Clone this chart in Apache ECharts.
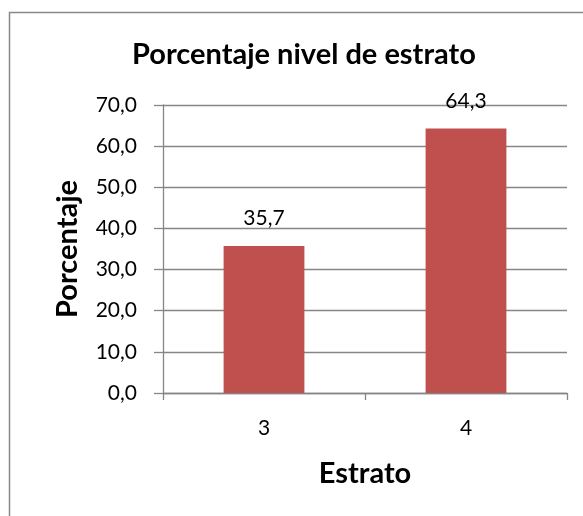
<!DOCTYPE html>
<html>
<head>
<meta charset="utf-8">
<script src="https://cdn.jsdelivr.net/npm/echarts@6/dist/echarts.min.js"></script>
<style>
  html, body { margin: 0; padding: 0; background: #fff; }
  #chart { width: 583px; height: 516px; }
</style>
</head>
<body>
<div id="chart"></div>
<script>
// Estrato categories and their share (%)
const categories = ['3', '4'];
const percentages = [35.7, 64.3];
const yTicks = { min: 0, max: 70, step: 10 };

const FONT = 'Lato, "Open Sans", sans-serif';
const fmt = v => v.toFixed(1).replace('.', ',');

const chart = echarts.init(document.getElementById('chart'), null, { renderer: 'canvas' });
chart.setOption({
  animation: false,
  backgroundColor: '#ffffff',
  graphic: [{
    type: 'rect',
    shape: { x: 9.5, y: 12.5, width: 620, height: 620 },
    style: { fill: 'none', stroke: '#888888', lineWidth: 1.5 },
    silent: true
  }],
  title: {
    text: 'Porcentaje nivel de estrato',
    left: 127,
    top: 35,
    textStyle: { fontFamily: FONT, fontWeight: 'bold', fontSize: 29, color: '#000' }
  },
  grid: { left: 163, right: 16, top: 105, bottom: 123, containLabel: false },
  xAxis: {
    type: 'category',
    data: categories,
    name: 'Estrato',
    nameLocation: 'middle',
    nameGap: 66,
    nameTextStyle: { fontFamily: FONT, fontWeight: 'bold', fontSize: 29, color: '#000' },
    axisLine: { lineStyle: { color: '#868686', width: 1.3 } },
    axisTick: { show: true, length: 7, alignWithLabel: false, lineStyle: { color: '#868686', width: 1.3 } },
    axisLabel: { fontFamily: FONT, fontSize: 21, color: '#000', margin: 25 }
  },
  yAxis: {
    type: 'value',
    min: yTicks.min,
    max: yTicks.max,
    interval: yTicks.step,
    name: 'Porcentaje',
    nameLocation: 'middle',
    nameGap: 81,
    nameRotate: 90,
    nameTextStyle: { fontFamily: FONT, fontWeight: 'bold', fontSize: 29, color: '#000' },
    axisLine: { show: true, lineStyle: { color: '#868686', width: 1.3 } },
    axisTick: { show: true, length: 9, inside: false, lineStyle: { color: '#868686', width: 1.3 } },
    axisLabel: { fontFamily: FONT, fontSize: 21, color: '#000', margin: 26, formatter: fmt },
    splitLine: { show: true, lineStyle: { color: '#868686', width: 1.3 } }
  },
  series: [{
    type: 'bar',
    data: percentages,
    barWidth: '40%',
    itemStyle: { color: '#C0504D' },
    label: {
      show: true,
      position: 'top',
      distance: 17,
      fontFamily: FONT,
      fontSize: 21,
      color: '#000',
      formatter: p => fmt(p.value)
    }
  }]
});
</script>
</body>
</html>
